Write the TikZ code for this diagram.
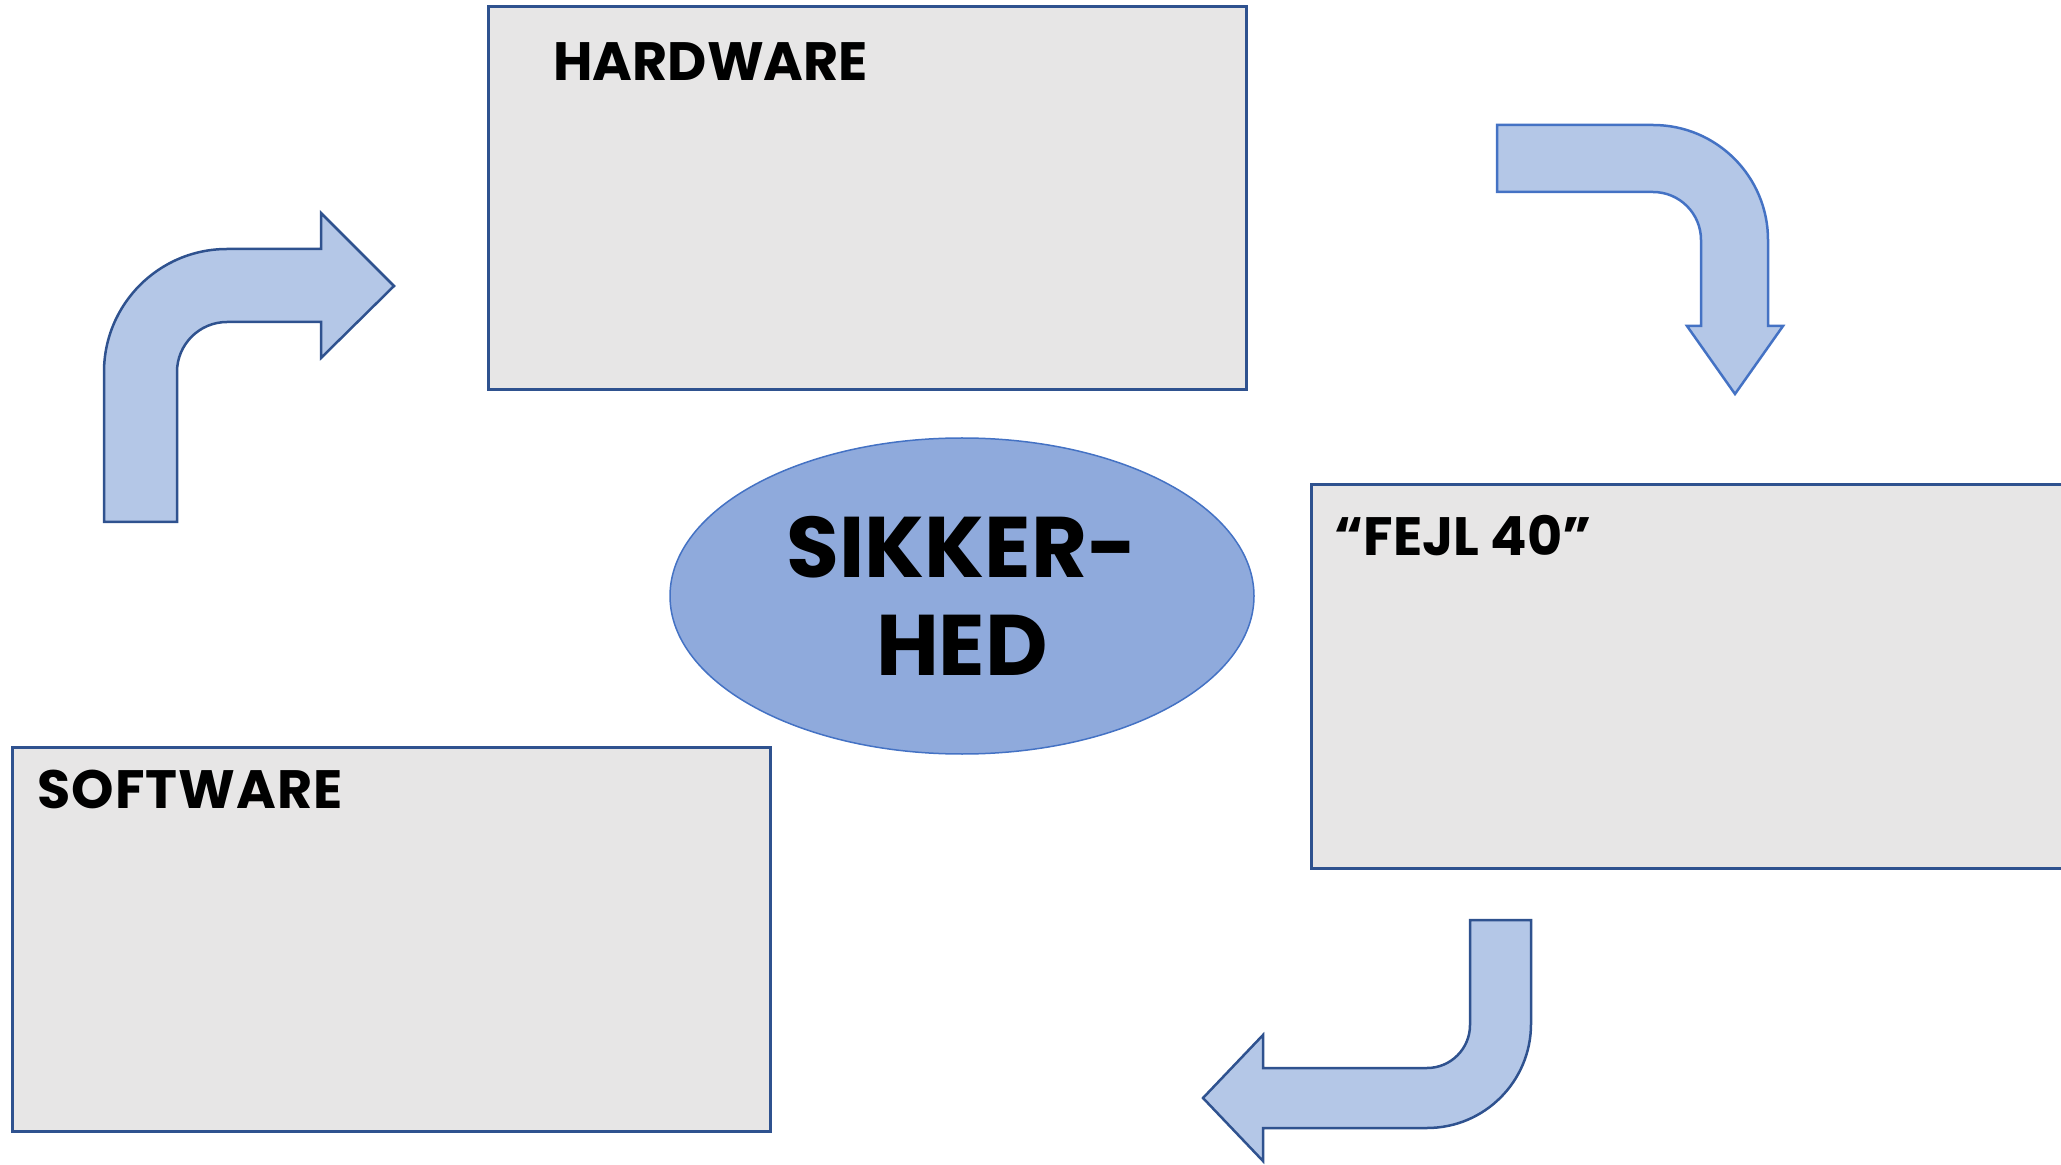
\documentclass[tikz,border=0pt]{standalone}
\usepackage{fontspec}
\setmainfont{Poppins}
\usetikzlibrary{shapes.geometric}
\definecolor{boxfill}{HTML}{E7E6E6}
\definecolor{boxline}{HTML}{2F528F}
\definecolor{arrfill}{HTML}{B4C7E7}
\definecolor{arrline}{HTML}{2F528F}
\definecolor{arrlinelight}{HTML}{4472C4}
\definecolor{ellfill}{HTML}{8FAADC}
\definecolor{ellline}{HTML}{4472C4}
\tikzset{
  panel/.style={draw=boxline, fill=boxfill, line width=1.5pt, rectangle,
    inner sep=0pt, outer sep=0pt, minimum width=379pt, minimum height=191.7pt},
  paneltext/.style={anchor=base west, inner sep=0pt, font=\bfseries\fontsize{27}{32}\selectfont},
  bentarrow/.style={draw=arrline, fill=arrfill, line width=1.25pt, line join=miter},
  centre/.style={ellipse, draw=ellline, fill=ellfill, line width=0.75pt,
    minimum width=292pt, minimum height=158pt, inner sep=0pt, align=center,
    font=\bfseries\fontsize{43}{49}\selectfont}
}
\begin{document}
\begin{tikzpicture}[x=0.5pt, y=-0.5pt]
\useasboundingbox (0,0) rectangle (2061,1165);
\clip (0,0) rectangle (2061,1165);

% boxes
\node[panel] (hw) at (867.5,198.3) {};
\node[panel] (sw) at (391,939.5) {};
\node[panel] (fejl) at (1690,676.5) {};

\node[paneltext] (hwt) at (553,81) {HARDWARE};
\node[paneltext] (swt) at (37,808) {\addfontfeature{LetterSpace=2}SOFTWARE};
\node[paneltext] (fejlt) at (1334,556) {“FEJL 40”};

% centre ellipse
\node[centre] (sik) at (962,596) {SIKKER-\\HED};

% arrow 1 (up then right)
\draw[bentarrow] (104,522) -- (104,372) arc[start angle=180, end angle=270, radius=123]
  -- (321,249) -- (321,213) -- (394,286) -- (321,358) -- (321,322) -- (227,322)
  arc[start angle=270, end angle=180, radius=50] -- (177,522) -- cycle;

% arrow 2 (right then down)
\draw[bentarrow, draw=arrlinelight] (1497,125) -- (1653,125) arc[start angle=270, end angle=360, radius=115]
  -- (1768,326) -- (1783,326) -- (1735,394) -- (1687,326) -- (1701,326) -- (1701,240)
  arc[start angle=0, end angle=-90, radius=48] -- (1497,192) -- cycle;

% arrow 3 (down then left)
\draw[bentarrow] (1470,920) -- (1531,920) -- (1531,1024) arc[start angle=0, end angle=90, radius=104]
  -- (1263,1128) -- (1263,1161) -- (1203,1098) -- (1263,1035) -- (1263,1068) -- (1427,1068)
  arc[start angle=90, end angle=0, radius=43] -- cycle;
\end{tikzpicture}
\end{document}
